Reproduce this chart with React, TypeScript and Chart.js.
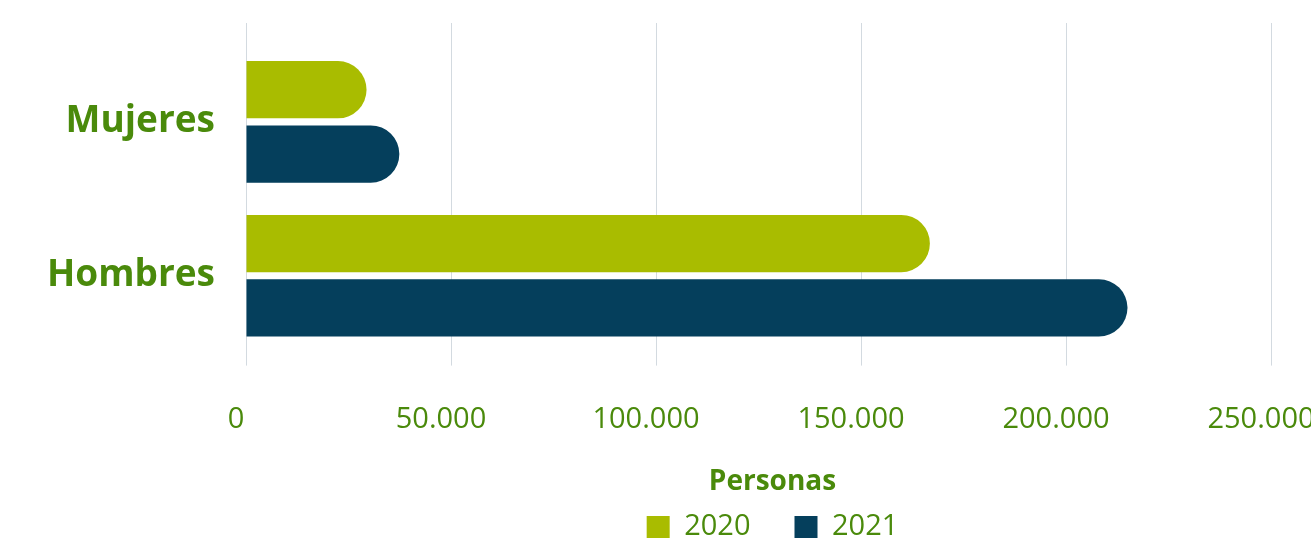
import React, { useEffect, useRef } from "react";
import { Chart, registerables } from "chart.js";

Chart.register(...registerables);

const categories = ["Mujeres", "Hombres"];
const seriesLabels = ["2020", "2021"];
const values2020 = [29400, 166800];
const values2021 = [37400, 215000];
const xTicks = [0, 50000, 100000, 150000, 200000, 250000];
const axisTitle = "Personas";

const GREEN = "#A9BC00";
const NAVY = "#053F5C";
const TEXT = "#4A8A0B";
const GRID = "#D3DAE0";
const FONT = "'Open Sans', sans-serif";

const fmt = (v: number) => String(v).replace(/\B(?=(\d{3})+(?!\d))/g, ".");

// places the legend block (with its "Personas" title) where the reference has it
const legendPlacer = {
  id: "legendPlacer",
  beforeDraw(chart: any) {
    const lg = chart.legend;
    if (!lg) return;
    const dx = 137;
    const targetTop = 468;
    const h = lg.bottom - lg.top;
    lg.left += dx;
    lg.right += dx;
    lg.top = targetTop;
    lg.bottom = targetTop + h;
  },
};

const xRange = {
  type: "linear" as const,
  min: xTicks[0],
  max: xTicks[xTicks.length - 1],
  afterBuildTicks: (s: any) => {
    s.ticks = xTicks.map((v) => ({ value: v }));
  },
  afterFit: (s: any) => {
    s.paddingLeft = 0;
    s.paddingRight = 0;
  },
};

export default function App() {
  const ref = useRef<HTMLCanvasElement>(null);

  useEffect(() => {
    if (!ref.current) return;
    const chart = new Chart(ref.current, {
      type: "bar",
      data: {
        labels: categories,
        datasets: [
          {
            label: seriesLabels[0],
            data: values2020,
            backgroundColor: GREEN,
            borderRadius: 40,
            borderSkipped: "start",
          },
          {
            label: seriesLabels[1],
            data: values2021,
            backgroundColor: NAVY,
            borderRadius: 40,
            borderSkipped: "start",
          },
        ],
      },
      options: {
        indexAxis: "y",
        animation: false,
        responsive: true,
        maintainAspectRatio: false,
        datasets: { bar: { categoryPercentage: 0.8366, barPercentage: 0.89 } },
        layout: { padding: { top: 23, right: 40, left: 0, bottom: -19 } },
        scales: {
          x: {
            ...xRange,
            position: "bottom",
            grid: { color: GRID, lineWidth: 1, drawTicks: true, tickLength: 13, tickColor: GRID },
            border: { display: false },
            ticks: {
              color: TEXT,
              font: { family: FONT, size: 29 },
              padding: 37,
              labelOffset: -10,
              maxRotation: 0,
              callback: (v: any) => fmt(Number(v)),
            },
          },
          xTop: {
            ...xRange,
            axis: "x",
            position: "top",
            grid: {
              color: GRID,
              drawOnChartArea: false,
              drawTicks: true,
              tickLength: 22,
              tickColor: GRID,
            },
            border: { display: false },
            ticks: { display: false },
          },
          y: {
            type: "category",
            afterFit: (s: any) => {
              s.width = 246;
              s.paddingTop = 0;
              s.paddingBottom = 0;
            },
            grid: { display: false, drawTicks: false },
            border: { display: false },
            ticks: {
              color: TEXT,
              font: { family: FONT, size: 37, weight: "bold" },
              padding: 31,
            },
          },
        },
        plugins: {
          legend: {
            position: "bottom",
            title: {
              display: true,
              text: axisTitle,
              color: TEXT,
              font: { family: FONT, size: 28, weight: "bold" },
              padding: { top: 0, bottom: -33 },
            },
            labels: {
              color: TEXT,
              font: { family: FONT, size: 29 },
              boxWidth: 23,
              boxHeight: 22,
              padding: 44,
            },
          },
          tooltip: { enabled: false },
        },
      },
      plugins: [legendPlacer],
    });
    return () => chart.destroy();
  }, []);

  return (
    <div style={{ position: "absolute", left: 0, top: 0, width: 1311, height: 539 }}>
      <canvas ref={ref} />
    </div>
  );
}
